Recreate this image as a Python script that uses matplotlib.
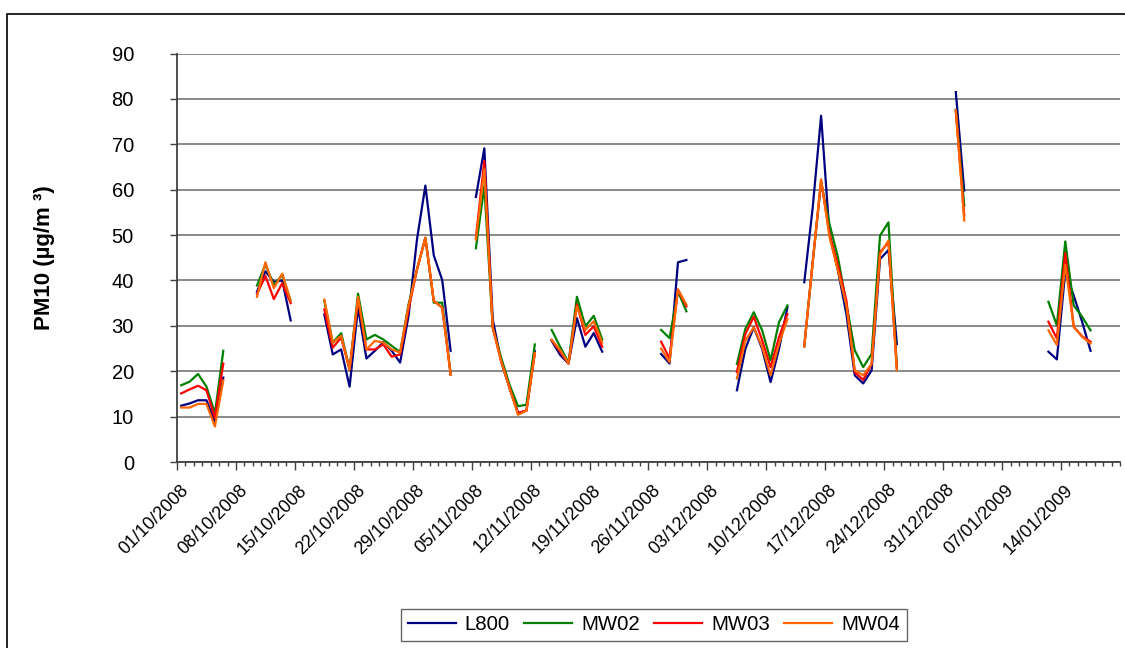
import matplotlib
matplotlib.use("Agg")
import matplotlib.pyplot as plt
import matplotlib.transforms as mtransforms
from matplotlib.patches import Rectangle
import numpy as np
import pandas as pd

nan = np.nan

# daily dates, 01/10/2008 .. 20/01/2009
dates = pd.date_range("2008-10-01", "2009-01-20", freq="D")

# PM10 (ug/m3) per day, nan = no data
l800 = [12.4, 12.9, 13.6, 13.6, 8.9, 18.6, nan, nan, nan,
        37.5, 42.0, 39.7, 40.0, 31.2, nan, nan, nan,
        32.5, 23.7, 24.8, 16.6, 34.0, 22.8, 24.5, 26.4, 24.5, 21.9, 32.2, 49.0, 60.9, 45.5, 40.1, 24.5, nan, nan,
        58.4, 69.1, 31.4, 22.2, 16.3, 10.8, 11.3, 24.4, nan,
        26.7, 23.6, 21.7, 31.7, 25.4, 28.4, 24.3, nan, nan, nan, nan, nan, nan,
        23.8, 21.7, 44.0, 44.5, nan, nan, nan, nan, nan,
        15.8, 24.9, 29.7, 24.9, 17.6, 24.9, 34.1, nan,
        39.6, 56.0, 76.3, 50.2, 42.2, 32.6, 19.1, 17.3, 20.2, 44.7, 46.7, 26.0,
        nan, nan, nan, nan, nan, nan,
        81.5, 59.8, nan, nan, nan, nan, nan, nan, nan, nan, nan,
        24.3, 22.6, 42.0, 36.7, 30.9, 24.5, nan, nan, nan]

mw02 = [16.9, 17.7, 19.4, 16.6, 10.7, 24.5, nan, nan, nan,
        38.9, 43.5, 39.0, 41.2, 35.5, nan, nan, nan,
        35.5, 26.3, 28.4, 20.4, 37.1, 27.0, 28.0, 27.0, 25.6, 24.2, 34.7, 42.4, 49.4, 35.1, 35.1, 19.3, nan, nan,
        47.1, 60.8, 29.6, 23.0, 17.0, 12.3, 12.6, 25.9, nan,
        29.1, 25.4, 21.9, 36.4, 29.9, 32.2, 27.0, nan, nan, nan, nan, nan, nan,
        29.1, 27.3, 37.6, 33.2, nan, nan, nan, nan, nan,
        21.6, 29.3, 33.0, 29.0, 22.4, 30.8, 34.5, nan,
        25.5, 44.0, 61.6, 52.4, 45.1, 34.8, 24.6, 20.9, 23.8, 49.9, 52.8, 21.0,
        nan, nan, nan, nan, nan, nan,
        77.6, 56.5, nan, nan, nan, nan, nan, nan, nan, nan, nan,
        35.3, 30.1, 48.6, 34.5, 32.0, 29.0, nan, nan, nan]

mw03 = [15.1, 16.0, 16.8, 15.8, 9.7, 21.7, nan, nan, nan,
        37.0, 41.0, 35.9, 39.4, 35.0, nan, nan, nan,
        33.6, 25.2, 27.4, 20.4, 35.8, 24.8, 24.8, 25.9, 23.2, 23.7, 33.6, 42.4, 49.4, 35.5, 34.0, 19.3, nan, nan,
        49.4, 66.3, 29.6, 22.2, 16.3, 10.8, 11.3, 24.0, nan,
        26.9, 24.3, 21.7, 34.7, 28.0, 29.9, 25.4, nan, nan, nan, nan, nan, nan,
        26.5, 22.8, 38.0, 34.3, nan, nan, nan, nan, nan,
        19.8, 28.2, 32.0, 26.8, 20.9, 27.5, 32.6, nan,
        25.5, 44.0, 62.0, 50.2, 43.3, 35.6, 19.8, 18.1, 21.6, 46.2, 48.4, 20.5,
        nan, nan, nan, nan, nan, nan,
        77.4, 54.3, nan, nan, nan, nan, nan, nan, nan, nan, nan,
        30.9, 27.2, 46.0, 29.8, 27.7, 26.5, nan, nan, nan]

mw04 = [12.0, 12.0, 12.8, 12.8, 7.8, 18.0, nan, nan, nan,
        36.4, 44.0, 38.3, 41.5, 35.5, nan, nan, nan,
        35.8, 26.3, 27.8, 20.4, 36.4, 24.8, 26.7, 26.3, 24.8, 24.1, 34.4, 42.4, 49.4, 35.5, 34.0, 19.3, nan, nan,
        49.0, 64.5, 29.6, 22.2, 16.3, 10.4, 11.3, 24.0, nan,
        26.9, 24.7, 21.7, 34.3, 29.1, 31.0, 26.3, nan, nan, nan, nan, nan, nan,
        25.0, 22.0, 38.0, 34.7, nan, nan, nan, nan, nan,
        18.4, 26.7, 29.7, 25.3, 19.1, 26.0, 31.5, nan,
        25.5, 44.0, 62.3, 49.5, 42.2, 34.5, 20.2, 19.1, 21.6, 45.8, 48.8, 20.2,
        nan, nan, nan, nan, nan, nan,
        77.4, 53.2, nan, nan, nan, nan, nan, nan, nan, nan, nan,
        29.0, 25.8, 43.5, 29.8, 27.6, 26.1, nan, nan, nan]

series_names = ["L800", "MW02", "MW03", "MW04"]
series_colors = ["#000080", "#008000", "#FF0000", "#FF6600"]

plt.rcParams['font.family'] = ['Liberation Sans', 'DejaVu Sans']
plt.rcParams['font.size'] = 13

fig = plt.figure(figsize=(11.25, 6.48), dpi=100)
ax = fig.add_axes([177 / 1125, 1 - 462 / 648, 943 / 1125, (462 - 53.5) / 648])

# chart area border (cut at right/bottom like the reference)
fig.patches.append(Rectangle((7 / 1125, -0.1), 1.2, 1.1 - 14 / 648, transform=fig.transFigure,
                             fill=False, edgecolor='black', linewidth=1.2))

x = np.arange(len(dates))
for vals, name, col in zip([l800, mw02, mw03, mw04], series_names, series_colors):
    ax.plot(x, vals, color=col, linewidth=1.6, label=name)

# --- AXES ---
ax.set_xlim(-0.5, len(dates) - 0.5)
ax.set_ylim(0, 90)
ax.set_yticks(np.arange(0, 91, 10))
ax.grid(axis='y', color='#808080', linewidth=1.3)
ax.set_axisbelow(True)

# major ticks every week on category edges, minor every day
week_pos = np.arange(0, len(dates), 7)
ax.set_xticks(week_pos - 0.5)
ax.set_xticklabels([dates[i].strftime("%d/%m/%Y") for i in week_pos],
                   rotation=45, ha='right', va='top', rotation_mode='anchor')
ax.set_xticks(np.arange(len(dates) + 1) - 0.5, minor=True)
ax.tick_params(axis='x', which='major', length=6, width=1, color='#404040', pad=8)
ax.tick_params(axis='x', which='minor', length=3, width=1, color='#404040')
ax.tick_params(axis='y', which='major', length=5, width=1, color='#404040', pad=26,
               labelsize=14.5)
offset = mtransforms.ScaledTranslation(3 / 100, 0, fig.dpi_scale_trans)
for lab in ax.get_xticklabels():
    lab.set_transform(lab.get_transform() + offset)

for side in ['top', 'right']:
    ax.spines[side].set_visible(False)
for side in ['left', 'bottom']:
    ax.spines[side].set_color('#404040')
    ax.spines[side].set_linewidth(1.3)

ax.set_ylabel("PM10 (µg/m ³)", fontweight='bold', fontsize=16)
ax.yaxis.set_label_coords(-0.129, 0.5)

leg = fig.legend(loc='center', bbox_to_anchor=(654 / 1125, 1 - 625 / 648), ncol=4,
                 frameon=True, fancybox=False, handlelength=2.35, columnspacing=0.7,
                 handletextpad=0.45, borderpad=0.3, fontsize=14.7)
leg.get_frame().set_edgecolor('#404040')
leg.get_frame().set_linewidth(1)

fig.savefig("out.png", dpi=100)
